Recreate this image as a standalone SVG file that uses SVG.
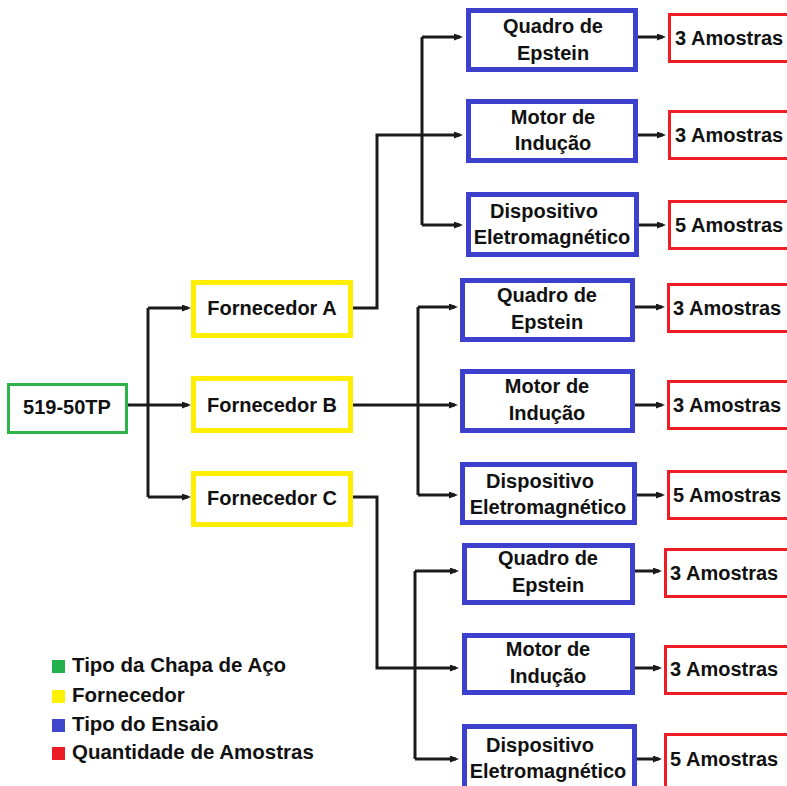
<svg xmlns="http://www.w3.org/2000/svg" width="787" height="786" viewBox="0 0 787 786">
<defs>
<style>
text{font-family:"Liberation Sans",Arial,sans-serif;font-weight:bold;font-size:20px;fill:#111;}
.c{text-anchor:middle;}
.lg{font-size:20.5px;}
.g{fill:#fff;stroke:#2eb34a;stroke-width:3;}
.y{fill:#fff;stroke:#ffee00;stroke-width:5;}
.b{fill:#fff;stroke:#3c40cc;stroke-width:5;}
.r{fill:#fff;stroke:#ee1c24;stroke-width:3;}
.ln{fill:none;stroke:#1a1a1a;stroke-width:3;}
.ar{fill:none;stroke:#1a1a1a;stroke-width:3;marker-end:url(#ah);}
</style>
<marker id="ah" markerUnits="userSpaceOnUse" markerWidth="10" markerHeight="8" refX="6" refY="3.5" orient="auto">
<path d="M0,0 L9,3.5 L0,7 z" fill="#1a1a1a"/>
</marker>
</defs>
<rect width="787" height="786" fill="#fff"/>

<g id="connectors">
<path class="ar" d="M128,405 H188"/>
<path class="ln" d="M148,308 V497"/>
<path class="ar" d="M148,308 H188"/>
<path class="ar" d="M148,497 H188"/>

<path class="ar" d="M353,308 H377 V135 H460"/>
<path class="ln" d="M422,37 V225"/>
<path class="ar" d="M422,37 H460"/>
<path class="ar" d="M422,225 H460"/>

<path class="ar" d="M353,405 H455"/>
<path class="ln" d="M418,307 V495"/>
<path class="ar" d="M418,307 H455"/>
<path class="ar" d="M418,495 H455"/>

<path class="ar" d="M353,497 H377 V668 H456"/>
<path class="ln" d="M415,571 V759"/>
<path class="ar" d="M415,571 H456"/>
<path class="ar" d="M415,759 H456"/>

<path class="ar" d="M638,37 H663"/>
<path class="ar" d="M638,135 H663"/>
<path class="ar" d="M639,225 H663"/>
<path class="ar" d="M635,307 H662"/>
<path class="ar" d="M635,405 H662"/>
<path class="ar" d="M637,495 H662"/>
<path class="ar" d="M635,571 H659"/>
<path class="ar" d="M635,668 H659"/>
<path class="ar" d="M637,759 H659"/>
</g>

<g id="root"><rect class="g" x="8.5" y="384.5" width="118" height="48"/><text class="c" x="67" y="414">519-50TP</text></g>

<g id="fornA"><rect class="y" x="193.5" y="282.5" width="157" height="53"/><text class="c" x="272" y="315">Fornecedor A</text></g>
<g id="fornB"><rect class="y" x="193.5" y="378.5" width="157" height="52"/><text class="c" x="272" y="412">Fornecedor B</text></g>
<g id="fornC"><rect class="y" x="193.5" y="473.5" width="157" height="51"/><text class="c" x="272" y="505">Fornecedor C</text></g>

<g id="A-quadro"><rect class="b" x="468.5" y="10.5" width="167" height="59"/><text class="c" x="553" y="33">Quadro de</text><text class="c" x="553" y="60">Epstein</text></g>
<g id="A-motor"><rect class="b" x="468.5" y="101.5" width="167" height="59"/><text class="c" x="553" y="124">Motor de</text><text class="c" x="553" y="150">Indução</text></g>
<g id="A-disp"><rect class="b" x="468.5" y="194.5" width="168" height="60"/><text class="c" x="544" y="218">Dispositivo</text><text class="c" x="552" y="244">Eletromagnético</text></g>

<g id="B-quadro"><rect class="b" x="462.5" y="280.5" width="170" height="59"/><text class="c" x="547" y="302">Quadro de</text><text class="c" x="547" y="329">Epstein</text></g>
<g id="B-motor"><rect class="b" x="462.5" y="371.5" width="170" height="59"/><text class="c" x="547" y="393">Motor de</text><text class="c" x="547" y="420">Indução</text></g>
<g id="B-disp"><rect class="b" x="462.5" y="464.5" width="172" height="58"/><text class="c" x="540" y="488">Dispositivo</text><text class="c" x="548" y="514">Eletromagnético</text></g>

<g id="C-quadro"><rect class="b" x="464.5" y="545.5" width="168" height="57"/><text class="c" x="548" y="565">Quadro de</text><text class="c" x="548" y="592">Epstein</text></g>
<g id="C-motor"><rect class="b" x="464.5" y="635.5" width="168" height="57"/><text class="c" x="548" y="656">Motor de</text><text class="c" x="548" y="683">Indução</text></g>
<g id="C-disp"><rect class="b" x="464.5" y="726.5" width="170" height="70"/><text class="c" x="540" y="752">Dispositivo</text><text class="c" x="548" y="778">Eletromagnético</text></g>

<g id="A-s1"><rect class="r" x="669.5" y="14.5" width="130" height="47"/><text x="675" y="45">3 Amostras</text></g>
<g id="A-s2"><rect class="r" x="669.5" y="111.5" width="130" height="47"/><text x="675" y="142">3 Amostras</text></g>
<g id="A-s3"><rect class="r" x="669.5" y="201.5" width="130" height="47"/><text x="675" y="232">5 Amostras</text></g>

<g id="B-s1"><rect class="r" x="668.5" y="284.5" width="130" height="47"/><text x="673" y="315">3 Amostras</text></g>
<g id="B-s2"><rect class="r" x="668.5" y="381.5" width="130" height="47"/><text x="673" y="412">3 Amostras</text></g>
<g id="B-s3"><rect class="r" x="668.5" y="471.5" width="130" height="47"/><text x="673" y="502">5 Amostras</text></g>

<g id="C-s1"><rect class="r" x="665.5" y="549.5" width="130" height="47"/><text x="670" y="580">3 Amostras</text></g>
<g id="C-s2"><rect class="r" x="665.5" y="646.5" width="130" height="47"/><text x="670" y="676">3 Amostras</text></g>
<g id="C-s3"><rect class="r" x="665.5" y="734.5" width="130" height="60"/><text x="670" y="766">5 Amostras</text></g>

<g id="legend">
<rect x="52" y="660" width="13" height="13" fill="#22b14c"/><text class="lg" x="72" y="672">Tipo da Chapa de Aço</text>
<rect x="52" y="690" width="13" height="13" fill="#fff200"/><text class="lg" x="72" y="702">Fornecedor</text>
<rect x="52" y="719" width="13" height="13" fill="#3f48cc"/><text class="lg" x="72" y="731">Tipo do Ensaio</text>
<rect x="52" y="747" width="13" height="13" fill="#ed1c24"/><text class="lg" x="72" y="759">Quantidade de Amostras</text>
</g>
</svg>
